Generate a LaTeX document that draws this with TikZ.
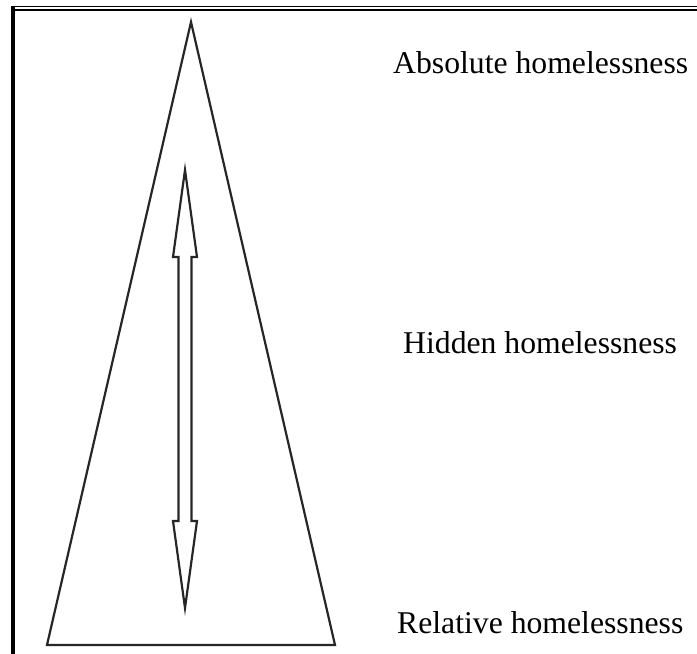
\documentclass[tikz,border=0pt]{standalone}
\usepackage{fontspec}
\setmainfont{Liberation Serif}
\begin{document}
\begin{tikzpicture}[x=1pt,y=-1pt,
  outline/.style={draw=black!85,line width=2.2pt,line join=miter},
  lbl/.style={font=\fontsize{31.7}{36}\selectfont,inner sep=0pt,anchor=base west}]
\useasboundingbox (0,0) rectangle (697,654);
% frame
\draw[line width=1.6pt] (11,6.5) -- (697,6.5);
\draw[line width=2.6pt] (13,10) -- (697,10);
\draw[line width=4.6pt] (13,5.7) -- (13,654);
% triangle
\coordinate (apex) at (191,22);
\coordinate (bl) at (47,645);
\coordinate (br) at (335,645);
\draw[outline] (apex) -- (br) -- (bl) -- cycle;
% double-headed block arrow
\coordinate (tt) at (185,170);
\coordinate (bt) at (185,608);
\draw[outline] (tt) -- (197,257) -- (191.5,257) -- (191.5,521) -- (197,521) -- (bt)
  -- (173,521) -- (178.5,521) -- (178.5,257) -- (173,257) -- cycle;
% labels
\node[lbl] (abs) at (393,73) {Absolute homelessness};
\node[lbl] (hid) at (403,353) {Hidden homelessness};
\node[lbl] (rel) at (397,633) {Relative homelessness};
\end{tikzpicture}
\end{document}
